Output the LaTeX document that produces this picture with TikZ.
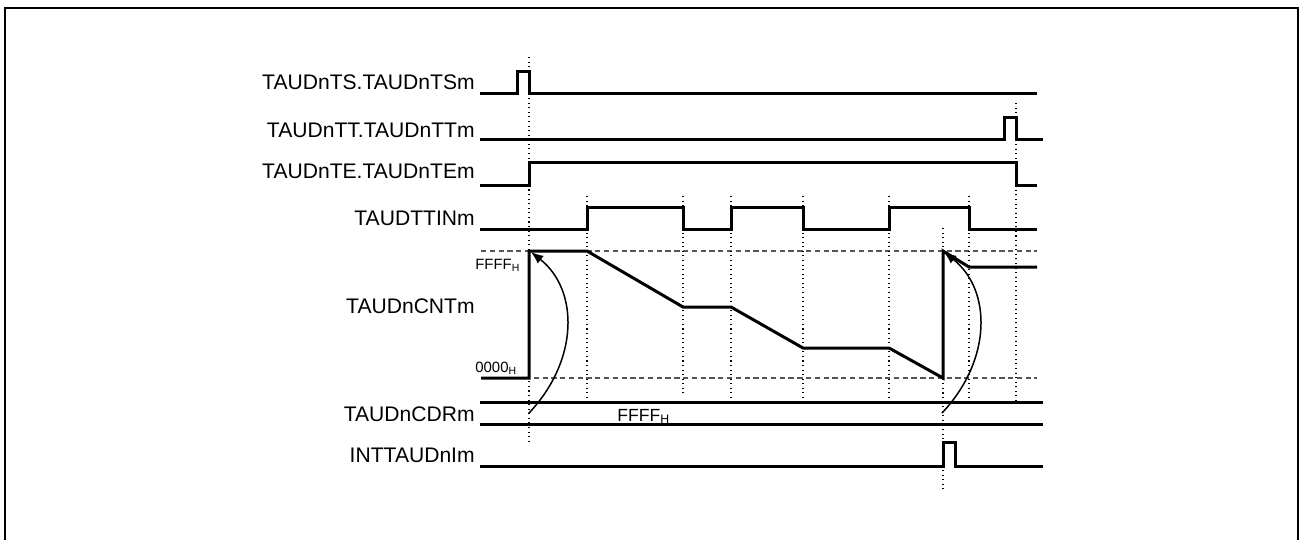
\documentclass[tikz,border=0pt]{standalone}
\usepackage{fontspec}
\setmainfont{Liberation Sans}
\usepackage{xcolor}
\usepackage{tikz}
\usetikzlibrary{arrows.meta}
\definecolor{levelGray}{HTML}{555555}

\tikzset{
  sig/.style={line width=1.7pt,line join=miter},
  guide/.style={line width=0.6pt,dotted},
  level/.style={line width=0.6pt,levelGray,dash pattern=on 3pt off 2pt},
  lbl/.style={font=\fontsize{12}{14}\selectfont,inner sep=0pt},
  small/.style={font=\fontsize{8.5}{10}\selectfont,inner sep=0pt},
  reload/.style={line width=0.85pt,-{Latex[length=7pt,width=5.5pt]}}
}

\begin{document}
\begin{tikzpicture}[x=0.02cm,y=-0.02cm]
  \useasboundingbox (0,0) rectangle (1300,539);
  \draw[line width=1.2pt] (5,560) -- (5,8) -- (1298,8) -- (1298,560);

  % signal names
  \node[lbl,anchor=base east] (tsname) at (475,89) {TAUDnTS.TAUDnTSm};
  \node[lbl,anchor=base east] (ttname) at (475,137) {TAUDnTT.TAUDnTTm};
  \node[lbl,anchor=base east] (tename) at (475,178) {TAUDnTE.TAUDnTEm};
  \node[lbl,anchor=base east] (tinname) at (475,225) {TAUDTTINm};
  \node[lbl,anchor=base east] (cntname) at (475,313) {TAUDnCNTm};
  \node[lbl,anchor=base east] (cdrname) at (475,421) {TAUDnCDRm};
  \node[lbl,anchor=base east] (intname) at (475,462) {INTTAUDnIm};

  % counter levels
  \draw[level] (481,251) -- (1037,251);
  \draw[level] (481,378) -- (1037,378);
  \node[small,anchor=base west] (fulllvl) at (475,269) {FFFF\textsubscript{H}};
  \node[small,anchor=base west] (zerolvl) at (475,372) {0000\textsubscript{H}};

  % timing guides
  \draw[guide] (529,57) -- (529,442);
  \draw[guide] (587,196) -- (587,402);
  \draw[guide] (683,196) -- (683,396);
  \draw[guide] (731,196) -- (731,402);
  \draw[guide] (803,196) -- (803,402);
  \draw[guide] (889,196) -- (889,402);
  \draw[guide] (943,228) -- (943,489);
  \draw[guide] (969,196) -- (969,402);
  \draw[guide] (1016,103) -- (1016,402);

  % waveforms
  \draw[sig] (480,93) -- (517,93) -- (517,71) -- (529,71) -- (529,93) -- (1037,93);
  \draw[sig] (480,139) -- (1004,139) -- (1004,117) -- (1016,117) -- (1016,139)
    -- (1043,139);
  \draw[sig] (480,185) -- (529,185) -- (529,162) -- (1016,162) -- (1016,185)
    -- (1037,185);
  \draw[sig] (480,229) -- (587,229) -- (587,207) -- (683,207) -- (683,229)
    -- (731,229) -- (731,207) -- (803,207) -- (803,229) -- (889,229)
    -- (889,207) -- (969,207) -- (969,229) -- (1037,229);
  \draw[sig] (481,378) -- (529,378) -- (529,251) -- (587,251) -- (683,307)
    -- (731,307) -- (803,348) -- (889,348) -- (943,378) -- (943,251)
    -- (969,267) -- (1037,267);
  \draw[sig] (480,402) -- (1043,402);
  \draw[sig] (480,424) -- (1043,424);
  \node[font=\fontsize{10}{12}\selectfont,inner sep=0pt,anchor=base west]
    (cdrval) at (617,421) {FFFF\textsubscript{H}};
  \draw[sig] (480,466) -- (943,466) -- (943,442) -- (955,442) -- (955,466)
    -- (1043,466);

  % reload to FFFF
  \coordinate (load1) at (529,413);
  \coordinate (top1) at (531,252);
  \coordinate (load2) at (942,413);
  \coordinate (top2) at (944,252);
  \draw[reload] (load1) .. controls (579,360) and (579,290) .. (top1);
  \draw[reload] (load2) .. controls (992,360) and (992,290) .. (top2);
\end{tikzpicture}
\end{document}
